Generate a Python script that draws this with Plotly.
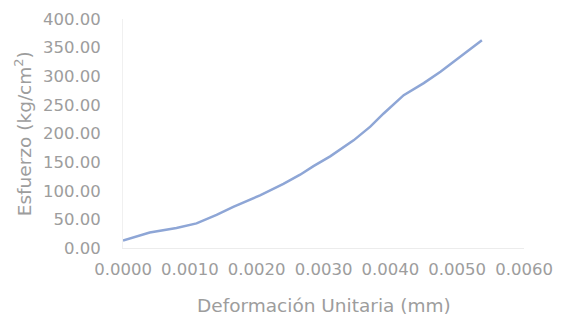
import plotly.graph_objects as go

strain = [0.0000, 0.0004, 0.0008, 0.0011, 0.0014, 0.00165, 0.00205, 0.0024, 0.00265,
          0.00285, 0.0031, 0.00345, 0.0037, 0.0039, 0.0042, 0.0045, 0.00475, 0.0050, 0.00537]
stress = [13, 27, 35, 43, 58, 72, 92, 112, 128, 143, 160, 188, 212, 235, 267, 288, 308, 330, 363]

x_ticks = [0.0, 0.001, 0.002, 0.003, 0.004, 0.005, 0.006]
x_tick_labels = ["0.0000", "0.0010", "0.0020", "0.0030", "0.0040", "0.0050", "0.0060"]
y_ticks = [0, 50, 100, 150, 200, 250, 300, 350, 400]
y_tick_labels = ["0.00", "50.00", "100.00", "150.00", "200.00", "250.00", "300.00", "350.00", "400.00"]

font_color = "#9d9d9d"
font_family = "DejaVu Sans"

fig = go.Figure()
fig.add_trace(go.Scatter(x=strain, y=stress, mode="lines",
                         line=dict(color="#8EA6D6", width=2.5), showlegend=False))

fig.update_layout(
    width=558, height=312,
    margin=dict(l=115, r=42, t=11, b=72, autoexpand=False),
    paper_bgcolor="white", plot_bgcolor="white",
    font=dict(family=font_family, color=font_color, size=16),
    xaxis=dict(range=[0, 0.006], tickvals=x_ticks, ticktext=x_tick_labels, automargin=False,
               showgrid=False, zeroline=False, showline=True, linecolor="#ececec",
               ticks="", ticklabelstandoff=6, tickfont=dict(size=16.5, color=font_color)),
    yaxis=dict(range=[0, 400], tickvals=y_ticks, ticktext=y_tick_labels, automargin=False,
               showgrid=False, zeroline=False, showline=True, linecolor="#f0f0f0",
               ticks="", ticklabelstandoff=18, tickfont=dict(size=16.5, color=font_color)),
    annotations=[
        dict(text="Deformación Unitaria (mm)", xref="paper", yref="paper",
             x=0.5, y=-0.25, yanchor="middle", xanchor="center", showarrow=False,
             font=dict(size=18.5, color=font_color)),
        dict(text="Esfuerzo (kg/cm<sup>2</sup>)", xref="paper", yref="paper",
             x=-0.25, xanchor="center", y=0.5, yanchor="middle", textangle=-90,
             showarrow=False, font=dict(size=18.5, color=font_color)),
    ],
)

fig.write_html("out.html")
